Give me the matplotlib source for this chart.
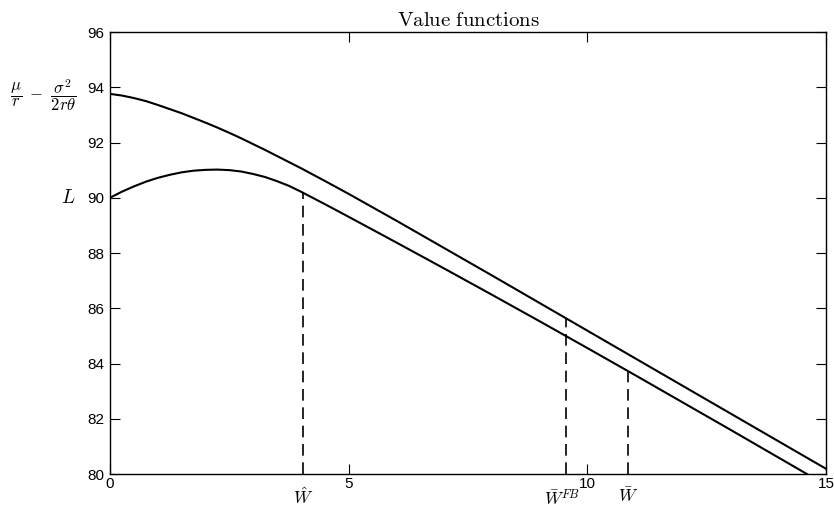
import numpy as np
import matplotlib
matplotlib.use("Agg")
import matplotlib.pyplot as plt
import matplotlib.transforms as mtransforms

plt.rcParams['font.family'] = ['Liberation Sans', 'DejaVu Sans']
plt.rcParams['mathtext.fontset'] = 'cm'

# data
w_upper = [0, 0.25, 0.5, 0.75, 1, 1.25, 1.5, 1.75, 2, 2.25, 2.5, 2.75, 3, 3.25, 3.5, 3.75,
           4, 4.5, 5, 6, 7, 8, 9, 10, 11, 12, 13, 14, 15]
v_upper = [93.76, 93.70, 93.61, 93.50, 93.36, 93.21, 93.06, 92.89, 92.72, 92.54, 92.35,
           92.15, 91.94, 91.73, 91.51, 91.29, 91.07, 90.61, 90.14, 89.17, 88.18, 87.19,
           86.19, 85.19, 84.19, 83.19, 82.19, 81.19, 80.19]

w_lower = [0, 0.25, 0.5, 0.75, 1, 1.25, 1.5, 1.75, 2, 2.25, 2.5, 2.75, 3, 3.25, 3.5, 3.75,
           4, 4.5, 5, 6, 7, 8, 9, 10, 11, 12, 13, 14, 15]
v_lower = [90.00, 90.22, 90.41, 90.58, 90.72, 90.83, 90.92, 90.98, 91.01, 91.02, 91.00,
           90.95, 90.86, 90.75, 90.60, 90.43, 90.22, 89.77, 89.31, 88.38, 87.44, 86.49,
           85.53, 84.56, 83.58, 82.59, 81.60, 80.60, 79.60]

# dashed markers: position, height reached, label
marks_x = [4.04, 9.55, 10.85]
marks_top = [90.19, 85.64, 83.73]
marks_lab = [r'$\hat{W}$', r'$\bar{W}^{FB}$', r'$\bar{W}$']

ylab_vals = [93.72, 90.0]
ylab_txt = [r'$\dfrac{\mu}{r}\ -\ \dfrac{\sigma^2}{2r\theta}$', r'$L$']

fig = plt.figure(figsize=(8.34, 5.08), dpi=100)
ax = fig.add_axes([0.1319, 0.0669, 0.8585, 0.8701])

ax.plot(w_upper, v_upper, color='black', lw=1.5)
ax.plot(w_lower, v_lower, color='black', lw=1.5)
for x, top in zip(marks_x, marks_top):
    ax.plot([x, x], [80, top], color='black', lw=1.2, dashes=(7, 4))

ax.set_xlim(0, 15)
ax.set_ylim(80, 96)
ax.set_xticks([0, 5, 10, 15])
ax.set_yticks(np.arange(80, 97, 2))
ax.tick_params(direction='in', length=7, width=0.8, top=True, right=True,
               labelsize=11, pad=4)
ax.tick_params(axis='x', pad=2)
for s in ax.spines.values():
    s.set_linewidth(1.0)

ax.set_title(r'$\mathrm{Value\ functions}$', fontsize=15, pad=4)

tx = mtransforms.blended_transform_factory(ax.transData, ax.transAxes)
for x, lab in zip(marks_x, marks_lab):
    t = tx
    if 'FB' in lab:
        # nudge left so it does not run into the "10" tick label
        t = mtransforms.offset_copy(tx, fig=fig, x=-4, y=-2, units='dots')
    ax.text(x, -0.05, lab, transform=t, ha='center', va='center', fontsize=12.5)

ty = mtransforms.blended_transform_factory(fig.transFigure, ax.transData)
ax.text(0.052, ylab_vals[0], ylab_txt[0], transform=ty, ha='center', va='center', fontsize=12)
ax.text(0.082, ylab_vals[1], ylab_txt[1], transform=ty, ha='center', va='center', fontsize=14)

fig.savefig('out.png', dpi=100)
